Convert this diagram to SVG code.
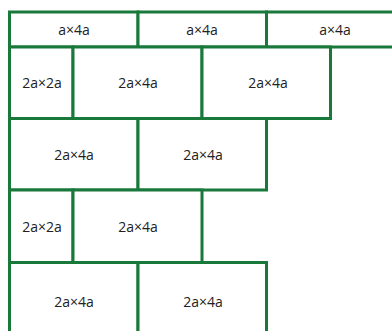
<svg xmlns="http://www.w3.org/2000/svg" width="392" height="331" viewBox="0 0 392 331">
<style>
rect{fill:#fff;stroke:#18793a;stroke-width:3}
text{font-family:"Open Sans","Liberation Sans",sans-serif;font-size:14px;fill:#222;text-anchor:middle}
</style>
<rect x="0" y="0" width="392" height="331" style="stroke:none"/>
<g id="r1c1"><rect x="9.5" y="12" width="128.5" height="35"/><text x="74" y="34.5">a×4a</text></g>
<g id="r1c2"><rect x="138" y="12" width="128.5" height="35"/><text x="202" y="34.5">a×4a</text></g>
<g id="r1c3"><rect x="266.5" y="12" width="130" height="35"/><text x="335" y="34.5">a×4a</text></g>
<g id="r2c1"><rect x="9.5" y="47" width="63.5" height="71.5"/><text x="42" y="88">2a×2a</text></g>
<g id="r2c2"><rect x="73" y="47" width="129" height="71.5"/><text x="138" y="88">2a×4a</text></g>
<g id="r2c3"><rect x="202" y="47" width="128.5" height="71.5"/><text x="268" y="88">2a×4a</text></g>
<g id="r3c1"><rect x="9.5" y="118.5" width="128.5" height="71.5"/><text x="74" y="159.5">2a×4a</text></g>
<g id="r3c2"><rect x="138" y="118.5" width="128.5" height="71.5"/><text x="203" y="159.5">2a×4a</text></g>
<g id="r4c1"><rect x="9.5" y="190" width="63.5" height="72.5"/><text x="42" y="231.5">2a×2a</text></g>
<g id="r4c2"><rect x="73" y="190" width="129" height="72.5"/><text x="138" y="231.5">2a×4a</text></g>
<g id="r5c1"><rect x="9.5" y="262.5" width="128.5" height="75"/><text x="74" y="306.5">2a×4a</text></g>
<g id="r5c2"><rect x="138" y="262.5" width="128.5" height="75"/><text x="203" y="306.5">2a×4a</text></g>
</svg>
